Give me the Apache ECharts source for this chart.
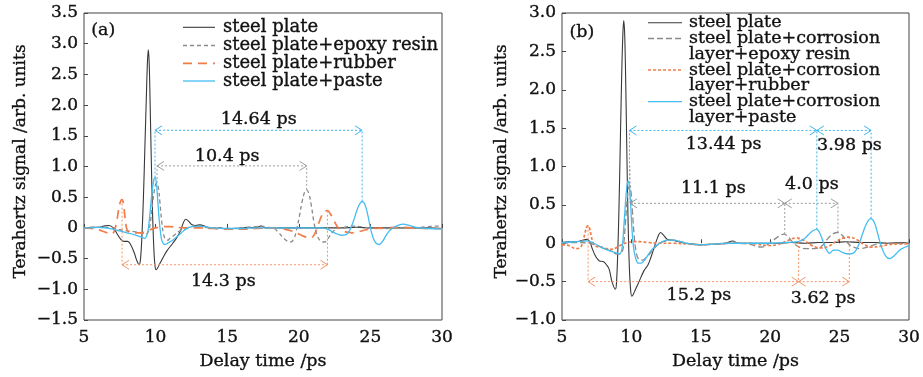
<!DOCTYPE html>
<html>
<head>
<meta charset="utf-8">
<script src="https://cdn.jsdelivr.net/npm/echarts@6/dist/echarts.min.js"></script>
<style>html,body{margin:0;padding:0;background:#fff;}#c{width:923px;height:377px;}</style>
</head>
<body>
<div id="c"></div>
<script>
// ---------- Panel (a) data ----------
const steelA = [[5,0],[5.5,0.01],[6,0.01],[6.4,0.03],[6.75,0.04],[7.05,0.0],[7.3,-0.09],[7.55,-0.18],[7.8,-0.22],[8.05,-0.22],[8.25,-0.27],[8.5,-0.4],[8.7,-0.54],[8.85,-0.6],[8.95,-0.5],[9.05,-0.1],[9.15,0.5],[9.25,1.3],[9.35,2.1],[9.43,2.7],[9.49,2.9],[9.55,2.7],[9.62,2.0],[9.7,1.1],[9.78,0.3],[9.87,-0.3],[9.95,-0.6],[10.03,-0.68],[10.12,-0.66],[10.3,-0.58],[10.55,-0.47],[10.8,-0.37],[11.2,-0.25],[11.5,-0.15],[11.75,-0.04],[11.95,0.09],[12.1,0.14],[12.3,0.11],[12.55,0.05],[12.8,0.04],[13.1,0.05],[13.4,0.03],[13.7,0.0],[14,-0.01],[14.5,0],[15,-0.02],[15.5,-0.01],[16,0],[16.5,0.01],[17,0],[17.35,0.03],[17.7,0],[18,0],[19,0],[20,0],[21,0],[22,0],[23,0],[24,0.01],[25,0],[26,0],[27,0],[28,0],[29,0],[30,-0.01]];
const epoxyA = [[5,0],[6,0.01],[7,0],[7.5,-0.03],[8,-0.05],[8.5,-0.06],[9,-0.08],[9.3,-0.1],[9.5,-0.06],[9.65,0.12],[9.8,0.42],[9.92,0.62],[10.02,0.72],[10.1,0.73],[10.2,0.64],[10.3,0.42],[10.42,0.12],[10.55,-0.1],[10.7,-0.19],[10.85,-0.2],[11.0,-0.17],[11.3,-0.12],[11.6,-0.06],[12,-0.02],[12.5,0.02],[13,0.03],[13.5,0.01],[14,0],[15,-0.01],[16,0],[17,0.02],[17.4,0.03],[17.8,0.01],[18.2,0],[18.6,-0.08],[19.0,-0.18],[19.4,-0.23],[19.65,-0.18],[19.85,-0.02],[20.05,0.2],[20.25,0.45],[20.42,0.59],[20.55,0.62],[20.7,0.56],[20.88,0.36],[21.05,0.1],[21.25,-0.1],[21.5,-0.21],[21.8,-0.23],[22.05,-0.17],[22.35,-0.07],[22.7,-0.01],[23.2,0.01],[23.8,0.03],[24.3,0.02],[25,0],[26,-0.01],[27,0],[28,0],[29,0.02],[29.5,0.03],[30,0.03]];
const rubberA = [[5,0],[5.5,-0.01],[6,-0.03],[6.5,-0.07],[6.9,-0.1],[7.1,-0.06],[7.28,0.1],[7.42,0.3],[7.55,0.43],[7.66,0.46],[7.76,0.38],[7.86,0.18],[7.97,0.0],[8.1,-0.06],[8.5,-0.08],[9.0,-0.08],[9.5,-0.04],[10,0],[10.5,0.02],[11,0.02],[12,0],[13,0],[14,-0.01],[15,-0.02],[16,-0.02],[17,-0.01],[18,0],[18.5,0],[19,-0.02],[19.5,-0.05],[20,-0.1],[20.5,-0.15],[20.85,-0.16],[21.1,-0.1],[21.35,0.05],[21.6,0.2],[21.8,0.27],[22.0,0.28],[22.2,0.23],[22.45,0.12],[22.7,0.02],[23.0,-0.04],[23.4,-0.07],[23.8,-0.08],[24.2,-0.06],[24.7,-0.03],[25.2,-0.01],[26,0],[27,0.01],[28,0],[29,-0.01],[30,-0.01]];
const pasteA = [[5,0],[5.5,0],[6,0.01],[6.5,0],[7,-0.02],[7.5,-0.05],[8,-0.08],[8.5,-0.11],[9.0,-0.15],[9.25,-0.17],[9.42,-0.1],[9.55,0.1],[9.68,0.42],[9.8,0.68],[9.9,0.8],[9.97,0.82],[10.05,0.74],[10.15,0.45],[10.27,0.08],[10.4,-0.17],[10.52,-0.25],[10.65,-0.27],[10.9,-0.24],[11.2,-0.2],[11.5,-0.14],[11.8,-0.08],[12.1,-0.02],[12.5,0.02],[13,0.03],[13.5,0.02],[14,0],[15,-0.01],[16,-0.01],[17,0],[18,0],[19,0],[20,0],[21,0],[21.5,0],[22,-0.02],[22.5,-0.08],[23.0,-0.12],[23.3,-0.11],[23.55,-0.04],[23.8,0.1],[24.05,0.28],[24.25,0.39],[24.42,0.43],[24.6,0.39],[24.8,0.23],[25.0,0.0],[25.2,-0.17],[25.4,-0.25],[25.6,-0.27],[25.85,-0.22],[26.1,-0.12],[26.4,-0.03],[26.8,0.03],[27.3,0.06],[27.7,0.04],[28.2,0.01],[29,-0.01],[30,-0.02]];

// ---------- Panel (b) data ----------
const steelB = [[5,0.01],[5.5,0.02],[6,0.02],[6.5,0.04],[6.8,0.05],[7.0,0.02],[7.2,-0.08],[7.45,-0.18],[7.7,-0.23],[8.0,-0.24],[8.2,-0.28],[8.4,-0.34],[8.6,-0.5],[8.85,-0.6],[8.93,-0.5],[9.02,-0.1],[9.11,0.5],[9.2,1.3],[9.29,2.1],[9.38,2.7],[9.45,2.9],[9.52,2.7],[9.6,2.0],[9.68,1.1],[9.76,0.3],[9.85,-0.3],[9.94,-0.6],[10.03,-0.69],[10.12,-0.67],[10.3,-0.6],[10.55,-0.5],[10.9,-0.36],[11.2,-0.28],[11.45,-0.16],[11.65,-0.05],[11.9,0.08],[12.1,0.14],[12.3,0.11],[12.6,0.05],[13.0,0.04],[13.4,0.02],[13.8,0],[14.5,-0.01],[15,-0.02],[16,-0.01],[16.8,0],[17.3,0.03],[17.7,0],[18.5,0],[19.5,0],[20.5,0],[21.5,0.01],[22.5,0],[23.5,0.01],[24.5,0.01],[25.5,0.02],[26.5,0.01],[27.5,0.01],[28.5,0],[29.5,0.01],[30,0]];
const epoxyB = [[5,0],[6,0.01],[7,0],[7.5,-0.03],[8,-0.06],[8.5,-0.1],[9.0,-0.14],[9.3,-0.12],[9.45,0.0],[9.58,0.3],[9.7,0.58],[9.8,0.72],[9.9,0.75],[9.98,0.65],[10.08,0.4],[10.2,0.1],[10.33,-0.1],[10.5,-0.2],[10.8,-0.22],[11.1,-0.18],[11.5,-0.1],[11.9,-0.02],[12.3,0.02],[12.8,0.04],[13.2,0.04],[13.6,0.02],[14,0],[15,-0.02],[16,-0.01],[17,0],[17.3,0.02],[17.7,0],[18.5,-0.01],[19.0,-0.04],[19.4,-0.05],[19.8,-0.02],[20.3,0.05],[20.7,0.1],[21.0,0.12],[21.3,0.08],[21.7,0],[22.1,-0.05],[22.6,-0.07],[23.2,-0.07],[23.7,-0.04],[24.1,0.05],[24.5,0.12],[24.85,0.14],[25.2,0.1],[25.6,0],[26.0,-0.05],[26.5,-0.07],[27.0,-0.05],[27.5,-0.02],[28,0],[29,0],[30,0]];
const rubberB = [[5,-0.02],[5.5,-0.03],[6.0,-0.07],[6.3,-0.06],[6.5,0.02],[6.65,0.13],[6.78,0.21],[6.88,0.23],[6.98,0.2],[7.1,0.1],[7.25,0.0],[7.45,-0.04],[7.8,-0.05],[8.2,-0.07],[8.5,-0.08],[8.9,-0.06],[9.3,-0.02],[9.7,0.01],[10.1,0.02],[10.6,0.02],[11.2,0.01],[12,0],[13,0],[14,-0.01],[15,-0.02],[16,-0.01],[17,0],[18,0],[19,-0.01],[19.8,-0.03],[20.5,-0.02],[21.2,0.03],[21.9,0.07],[22.4,0.04],[23.0,-0.03],[23.6,-0.06],[24.2,-0.04],[24.8,0.03],[25.3,0.07],[25.7,0.08],[26.2,0.05],[26.8,-0.02],[27.3,-0.05],[27.9,-0.04],[28.5,-0.02],[29.2,-0.01],[30,-0.01]];
const pasteB = [[5,0.01],[6,0.02],[6.8,0.03],[7.3,0],[7.8,-0.05],[8.3,-0.09],[8.8,-0.12],[9.15,-0.14],[9.33,-0.06],[9.45,0.2],[9.57,0.52],[9.67,0.73],[9.76,0.81],[9.84,0.76],[9.93,0.55],[10.03,0.22],[10.15,-0.05],[10.3,-0.19],[10.5,-0.26],[10.7,-0.26],[10.9,-0.23],[11.1,-0.18],[11.4,-0.1],[11.8,-0.03],[12.2,0.02],[12.6,0.04],[13.0,0.04],[13.5,0.02],[14,0],[15,-0.02],[16,-0.01],[17,0],[18,0],[19,0],[20,0],[21,0.01],[22,0.02],[22.4,0.05],[22.75,0.11],[23.05,0.16],[23.35,0.18],[23.6,0.12],[23.85,0.0],[24.1,-0.1],[24.3,-0.13],[24.55,-0.09],[24.85,-0.09],[25.2,-0.12],[25.7,-0.14],[26.05,-0.12],[26.35,-0.03],[26.65,0.12],[26.95,0.26],[27.25,0.32],[27.5,0.27],[27.75,0.12],[28.0,-0.04],[28.3,-0.16],[28.6,-0.2],[28.95,-0.16],[29.4,-0.08],[30,-0.03]];

// ---------- Annotations: arrows [x1, x2, y], verticals [x, y1, y2], labels [x, y] ----------
const blueArrowsA = [[9.96, 24.42, 1.59]];
const blueVertA = [[9.96, 0.82, 1.59], [24.42, 0.43, 1.59]];
const grayArrowsA = [[10.1, 20.55, 1.01]];
const grayVertA = [[10.1, 0.73, 1.01], [20.55, 0.62, 1.01]];
const orangeArrowsA = [[7.66, 22.0, -0.6]];
const orangeVertA = [[7.66, 0.46, -0.6], [22.0, 0.28, -0.6]];
const labelPosA = [[17.2, 1.77], [15.0, 1.17], [14.73, -0.88], [6.35, 3.21]];
const labelTextA = ['14.64 ps', '10.4 ps', '14.3 ps', '(a)'];

const blueArrowsB = [[9.86, 23.36, 1.47], [23.36, 27.27, 1.47]];
const blueVertB = [[9.86, 0.78, 1.47], [23.36, 0.18, 1.47], [27.27, 0.32, 1.47]];
const grayArrowsB = [[9.9, 21.05, 0.52], [21.05, 24.88, 0.52]];
const grayVertB = [[9.9, 0.52, 1.0], [21.05, 0.12, 0.52], [24.88, 0.14, 0.52]];
const orangeArrowsB = [[6.88, 22.05, -0.5], [22.05, 25.7, -0.5]];
const orangeVertB = [[6.88, 0.23, -0.5], [22.05, 0.07, -0.5], [25.7, 0.08, -0.5]];
const labelPosB = [[16.64, 1.29], [25.71, 1.27], [15.9, 0.72], [23.0, 0.76], [14.86, -0.68], [23.81, -0.72], [6.43, 2.75]];
const labelTextB = ['13.44 ps', '3.98 ps', '11.1 ps', '4.0 ps', '15.2 ps', '3.62 ps', '(b)'];

const legendNamesA = ['steel plate', 'steel plate+epoxy resin', 'steel plate+rubber', 'steel plate+paste'];
const legendNamesB = ['steel plate', 'steel plate+corrosion\nlayer+epoxy resin', 'steel plate+corrosion\nlayer+rubber', 'steel plate+corrosion\nlayer+paste'];

// ---------- styles ----------
const FONT = 'DejaVu Serif';
const TXT = '#111';
const BW = 0.35; // slight stroke to mimic the heavier original typeface
const C_STEEL = '#383838', C_GRAY = '#8a8a8a', C_ORANGE = '#f07c48', C_BLUE = '#44bdf0';
const A_BLUE = '#3db5ec', A_GRAY = '#9c9c9c', A_ORANGE = '#f59466';

const styleA = [
  {color: C_STEEL, width: 1.1, type: 'solid'},
  {color: C_GRAY, width: 1.3, type: [4, 3]},
  {color: C_ORANGE, width: 1.7, type: [9, 6]},
  {color: C_BLUE, width: 1.3, type: 'solid'}
];
const styleB = [
  {color: C_STEEL, width: 1.1, type: 'solid'},
  {color: C_GRAY, width: 1.3, type: [6, 3]},
  {color: C_ORANGE, width: 1.7, type: [3, 2]},
  {color: C_BLUE, width: 1.3, type: 'solid'}
];

function lineSeries(name, data, st, idx) {
  return {
    type: 'line', name: name, data: data, xAxisIndex: idx, yAxisIndex: idx,
    showSymbol: false, symbol: 'none', smooth: 0.4,
    lineStyle: {color: st.color, width: st.width, type: st.type},
    itemStyle: {color: st.color}, silent: true
  };
}

function arrowSeries(data, color, idx) {
  return {
    type: 'custom', xAxisIndex: idx, yAxisIndex: idx, data: data, silent: true, z: 5,
    renderItem: function (params, api) {
      const p1 = api.coord([api.value(0), api.value(2)]);
      const p2 = api.coord([api.value(1), api.value(2)]);
      const w = 7, h = 4.5;
      const st = {stroke: color, lineWidth: 1, fill: null};
      return {type: 'group', children: [
        {type: 'line', shape: {x1: p1[0], y1: p1[1], x2: p2[0], y2: p2[1]}, style: {stroke: color, lineWidth: 1, lineDash: [2, 2]}},
        {type: 'polyline', shape: {points: [[p1[0] + w, p1[1] - h], [p1[0], p1[1]], [p1[0] + w, p1[1] + h]]}, style: st},
        {type: 'polyline', shape: {points: [[p2[0] - w, p2[1] - h], [p2[0], p2[1]], [p2[0] - w, p2[1] + h]]}, style: st}
      ]};
    }
  };
}
function vertSeries(data, color, idx) {
  return {
    type: 'custom', xAxisIndex: idx, yAxisIndex: idx, data: data, silent: true, z: 5,
    renderItem: function (params, api) {
      const p1 = api.coord([api.value(0), api.value(1)]);
      const p2 = api.coord([api.value(0), api.value(2)]);
      return {type: 'line', shape: {x1: p1[0], y1: p1[1], x2: p2[0], y2: p2[1]}, style: {stroke: color, lineWidth: 1, lineDash: [2, 2]}};
    }
  };
}
function labelSeries(pos, texts, idx) {
  return {
    type: 'custom', xAxisIndex: idx, yAxisIndex: idx, data: pos, silent: true, z: 6,
    renderItem: function (params, api) {
      const p = api.coord([api.value(0), api.value(1)]);
      return {type: 'text', x: p[0], y: p[1], style: {text: texts[params.dataIndex], font: '17.5px "' + FONT + '"', fill: TXT, stroke: TXT, lineWidth: BW, align: 'center', verticalAlign: 'middle'}};
    }
  };
}

function yFmt(v) { return v === 0 ? '0' : v.toFixed(1).replace('-', '\u2212'); }

const axisText = {fontFamily: FONT, fontSize: 17, color: TXT, textBorderColor: TXT, textBorderWidth: BW};
function xAxis(idx) {
  return {
    type: 'value', gridIndex: idx, min: 5, max: 30, interval: 5,
    name: 'Delay time /ps', nameLocation: 'middle', nameGap: 32,
    nameTextStyle: {fontFamily: FONT, fontSize: 17.5, color: TXT, textBorderColor: TXT, textBorderWidth: BW},
    axisLine: {show: false}, splitLine: {show: false},
    axisTick: {show: true, inside: true, length: 4, lineStyle: {color: '#444'}},
    axisLabel: Object.assign({margin: 9}, axisText)
  };
}
function yAxis(idx, min, max, gap) {
  return {
    type: 'value', gridIndex: idx, min: min, max: max, interval: 0.5,
    name: 'Terahertz signal /arb. units', nameLocation: 'middle', nameGap: gap,
    nameTextStyle: {fontFamily: FONT, fontSize: 17, color: TXT, textBorderColor: TXT, textBorderWidth: BW, padding: [0, 0, 0, 10]},
    axisLine: {show: false}, splitLine: {show: false},
    axisTick: {show: true, inside: true, length: 4, lineStyle: {color: '#444'}},
    axisLabel: Object.assign({margin: 6, formatter: yFmt}, axisText)
  };
}

// legend graphics
function legendGraphic(names, styles, lineX1, lineX2, textX, rowYs, lineH, fs) {
  const children = [];
  names.forEach(function (n, i) {
    const y = rowYs[i];
    const st = styles[i];
    children.push({type: 'line', shape: {x1: lineX1, y1: y, x2: lineX2, y2: y},
      style: {stroke: st.color, lineWidth: st.width, lineDash: Array.isArray(st.type) ? st.type : null}});
    children.push({type: 'text', x: textX, y: y - lineH / 2, style: {text: n, font: fs + 'px "' + FONT + '"', fill: TXT, stroke: TXT, lineWidth: BW, lineHeight: lineH, verticalAlign: 'top', align: 'left'}});
  });
  return children;
}

const chart = echarts.init(document.getElementById('c'), null, {renderer: 'canvas'});
const option = {
  animation: false,
  backgroundColor: '#fff',
  grid: [
    {left: 84, top: 13, width: 358, height: 307, show: true, borderColor: '#444', borderWidth: 1, backgroundColor: 'transparent'},
    {left: 562, top: 13, width: 350, height: 307, show: true, borderColor: '#444', borderWidth: 1, backgroundColor: 'transparent'}
  ],
  xAxis: [xAxis(0), xAxis(1)],
  yAxis: [yAxis(0, -1.5, 3.5, 55), yAxis(1, -1, 3, 51)],
  graphic: [].concat(
    legendGraphic(legendNamesA, styleA, 183, 215, 223, [27.3, 45.5, 63.3, 81], 18, 18),
    legendGraphic(legendNamesB, styleB, 648, 682, 689, [22.7, 38.5, 70, 101.7], 15.8, 17.5)
  ),
  series: [
    lineSeries(legendNamesA[0], steelA, styleA[0], 0),
    lineSeries(legendNamesA[1], epoxyA, styleA[1], 0),
    lineSeries(legendNamesA[2], rubberA, styleA[2], 0),
    lineSeries(legendNamesA[3], pasteA, styleA[3], 0),
    lineSeries(legendNamesB[0], steelB, styleB[0], 1),
    lineSeries(legendNamesB[1], epoxyB, styleB[1], 1),
    lineSeries(legendNamesB[2], rubberB, styleB[2], 1),
    lineSeries(legendNamesB[3], pasteB, styleB[3], 1),
    arrowSeries(blueArrowsA, A_BLUE, 0), vertSeries(blueVertA, A_BLUE, 0),
    arrowSeries(grayArrowsA, A_GRAY, 0), vertSeries(grayVertA, A_GRAY, 0),
    arrowSeries(orangeArrowsA, A_ORANGE, 0), vertSeries(orangeVertA, A_ORANGE, 0),
    labelSeries(labelPosA, labelTextA, 0),
    arrowSeries(blueArrowsB, A_BLUE, 1), vertSeries(blueVertB, A_BLUE, 1),
    arrowSeries(grayArrowsB, A_GRAY, 1), vertSeries(grayVertB, A_GRAY, 1),
    arrowSeries(orangeArrowsB, A_ORANGE, 1), vertSeries(orangeVertB, A_ORANGE, 1),
    labelSeries(labelPosB, labelTextB, 1)
  ]
};
chart.setOption(option);
</script>
</body>
</html>
